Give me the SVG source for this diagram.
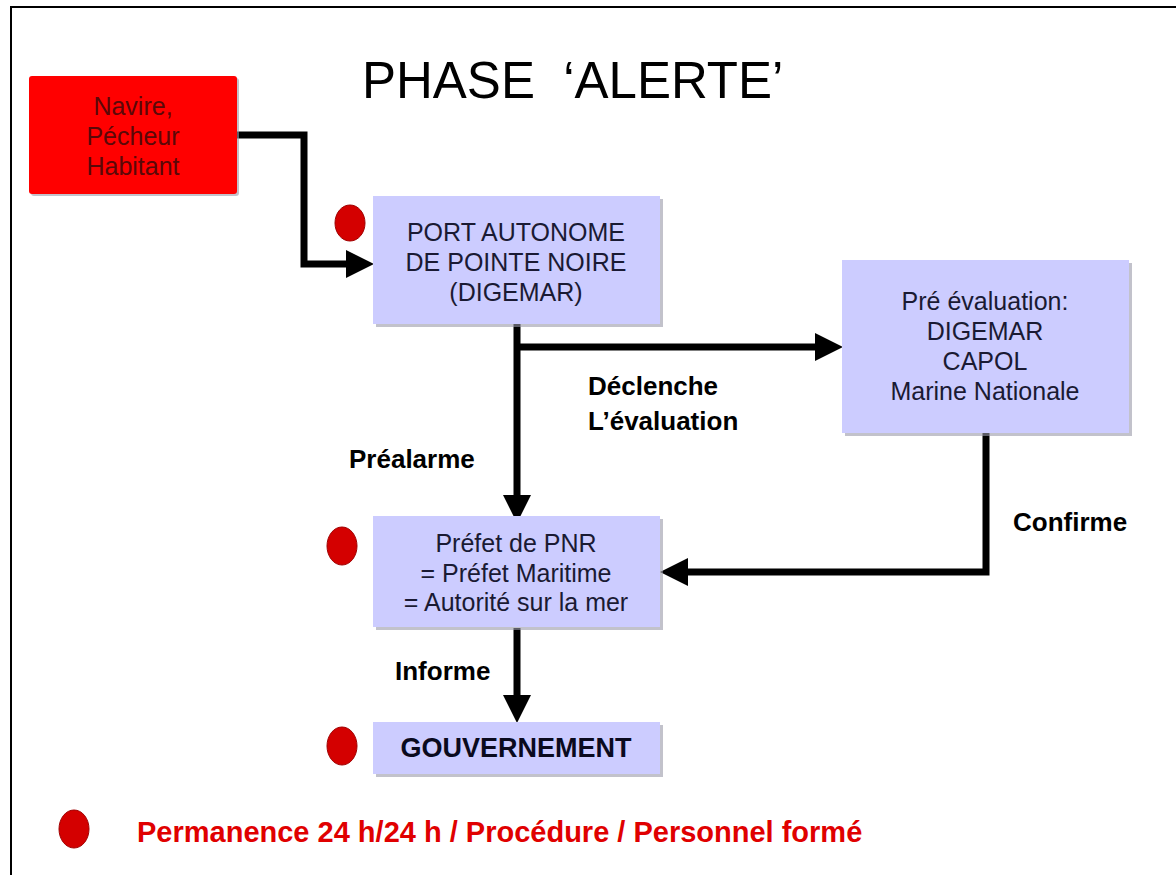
<svg xmlns="http://www.w3.org/2000/svg" width="1176" height="875" viewBox="0 0 1176 875">
<style>
.bg{fill:#ffffff}
.frame{stroke:#000;stroke-width:2;fill:none}
.box{fill:#ccccff}
.shadow{fill:#9a9aa8;opacity:0.6}
.redbox{fill:#ff0000}
.dot{fill:#d40000;stroke:#a00000;stroke-width:1}
.nt{font-family:"Liberation Sans",Arial,sans-serif;font-size:25px;fill:#1a1a33;text-anchor:middle}
.rt{font-family:"Liberation Sans",Arial,sans-serif;font-size:25px;fill:#5a0808;text-anchor:middle}
.lbl{font-family:"Liberation Sans",Arial,sans-serif;font-size:26px;font-weight:bold;fill:#000}
.title{font-family:"Liberation Sans",Arial,sans-serif;font-size:51px;fill:#000}
.legend{font-family:"Liberation Sans",Arial,sans-serif;font-size:29px;font-weight:bold;fill:#e00000}
.conn{stroke:#000;stroke-width:7;fill:none;stroke-linejoin:miter}
</style>
<defs>
<marker id="arr" markerUnits="userSpaceOnUse" markerWidth="28" markerHeight="28" viewBox="0 0 28 28" refX="0" refY="14" orient="auto">
<path d="M0,0 L28,14 L0,28 z" fill="#000"/>
</marker>
</defs>
<rect class="bg" x="0" y="0" width="1176" height="875"/>
<path class="frame" d="M11,875 V7 H1176"/>
<text class="title" x="362" y="98" xml:space="preserve">PHASE  ‘ALERTE’</text>

<g id="connectors">
<path class="conn" d="M237,135 H304 V264 H346" marker-end="url(#arr)"/>
<path class="conn" d="M517,324 V495" marker-end="url(#arr)"/>
<path class="conn" d="M514,347 H815" marker-end="url(#arr)"/>
<path class="conn" d="M986,433 V572 H688" marker-end="url(#arr)"/>
<path class="conn" d="M517,628 V695" marker-end="url(#arr)"/>
<text class="lbl" x="349" y="468">Préalarme</text>
<text class="lbl" x="588" y="395">Déclenche</text>
<text class="lbl" x="588" y="430">L’évaluation</text>
<text class="lbl" x="1013" y="531">Confirme</text>
<text class="lbl" x="395" y="680">Informe</text>
</g>

<g id="source">
<rect class="shadow" x="31" y="78" width="208" height="118" rx="3"/>
<rect class="redbox" x="29" y="76" width="208" height="118" rx="3"/>
<text class="rt" x="133" y="115">Navire,</text>
<text class="rt" x="133" y="145">Pécheur</text>
<text class="rt" x="133" y="175">Habitant</text>
</g>

<g id="port">
<ellipse class="dot" cx="350" cy="223" rx="15" ry="18"/>
<rect class="shadow" x="376" y="199" width="287" height="128"/>
<rect class="box" x="373" y="196" width="287" height="128"/>
<text class="nt" x="516" y="241">PORT AUTONOME</text>
<text class="nt" x="516" y="271">DE POINTE NOIRE</text>
<text class="nt" x="516" y="301">(DIGEMAR)</text>
</g>

<g id="preeval">
<rect class="shadow" x="845" y="263" width="287" height="173"/>
<rect class="box" x="842" y="260" width="287" height="173"/>
<text class="nt" x="985" y="310">Pré évaluation:</text>
<text class="nt" x="985" y="340">DIGEMAR</text>
<text class="nt" x="985" y="370">CAPOL</text>
<text class="nt" x="985" y="400">Marine Nationale</text>
</g>

<g id="prefet">
<ellipse class="dot" cx="342" cy="546" rx="15" ry="19"/>
<rect class="shadow" x="376" y="519" width="287" height="111"/>
<rect class="box" x="373" y="516" width="287" height="111"/>
<text class="nt" x="516" y="552">Préfet de PNR</text>
<text class="nt" x="516" y="582">= Préfet Maritime</text>
<text class="nt" x="516" y="611">= Autorité sur la mer</text>
</g>

<g id="gouvernement">
<ellipse class="dot" cx="342" cy="746" rx="15" ry="19"/>
<rect class="shadow" x="376" y="725" width="287" height="52"/>
<rect class="box" x="373" y="722" width="287" height="52"/>
<text class="nt" x="516" y="757" style="font-weight:bold;font-size:27px;fill:#0a0a1e">GOUVERNEMENT</text>
</g>

<g id="legend">
<ellipse class="dot" cx="74" cy="829" rx="15" ry="19"/>
<text class="legend" x="137" y="842">Permanence 24 h/24 h / Procédure / Personnel formé</text>
</g>
</svg>
